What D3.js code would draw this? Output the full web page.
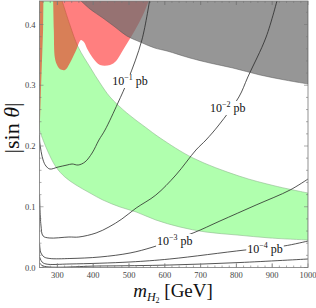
<!DOCTYPE html>
<html>
<head>
<meta charset="utf-8">
<script src="https://cdn.jsdelivr.net/npm/d3@7"></script>
<style>
body { margin: 0; background: #fff; }
text { font-family: "Liberation Serif", "DejaVu Serif", serif; }
</style>
</head>
<body>
<div id="chart"></div>
<script>
/* axis ticks */
var xTicks = [300, 400, 500, 600, 700, 800, 900, 1000];
var yTicks = [0.0, 0.1, 0.2, 0.3, 0.4];

/* excluded regions, [mH2, |sin theta|] */
var grayEdge = [[355, 0.445], [391, 0.4255], [427, 0.4107], [461, 0.3959], [494, 0.3811], [531, 0.3712],
    [572, 0.3613], [606, 0.3564], [670, 0.3449], [726, 0.3366], [790, 0.3284], [866, 0.3169], [936, 0.3086], [1000, 0.3021]];

var redMain = [[288, 0.445], [290, 0.3909], [293, 0.3449], [299, 0.3333], [307, 0.3267], [321, 0.3251], [335, 0.3366],
    [346, 0.3498], [355, 0.3613], [360, 0.3695], [366, 0.3745], [374, 0.3712], [385, 0.358], [399, 0.3449], [419, 0.3333],
    [447, 0.3333], [464, 0.3399], [480, 0.3547], [497, 0.3712], [517, 0.3909], [539, 0.4156], [559, 0.445]];
var redSliver = [[250, 0.445], [261, 0.445], [260, 0.3909], [257, 0.3416], [254, 0.2922], [251.4, 0.2428], [250, 0.2263]];

/* allowed band */
var greenTop = [[310, 0.445], [335, 0.3992], [358, 0.363], [391, 0.330], [419, 0.3037], [447, 0.2807], [494, 0.2543],
    [545, 0.2313], [587, 0.2132], [679, 0.1802], [807, 0.1506], [908, 0.1342], [1000, 0.1226]];
var greenBottom = [[250, 0.2263], [260, 0.2099], [274, 0.1901], [296, 0.1654], [321, 0.149], [352, 0.1358], [391, 0.1226],
    [427, 0.1111], [475, 0.0996], [520, 0.0914], [575, 0.0782], [642, 0.0667], [715, 0.0584], [802, 0.0535], [894, 0.0486], [1000, 0.0453]];

/* cross section contours */
var sigma1 = [[250.3, 0.218], [251, 0.2049], [260, 0.177], [268, 0.1671], [279, 0.1621], [302, 0.1654], [327, 0.1687],
    [341, 0.1704], [358, 0.1687], [377, 0.1737], [397, 0.1885], [416, 0.2099], [433, 0.2263], [469, 0.2708], [497, 0.3086],
    [536, 0.3745], [559, 0.445]];
var sigma2 = [[250.3, 0.1193], [254, 0.07], [260, 0.0519], [277, 0.0486], [332, 0.0502], [360, 0.0502], [408, 0.0568],
    [444, 0.0667], [480, 0.0798], [520, 0.0979], [575, 0.1193], [631, 0.1523], [687, 0.1934], [715, 0.2099], [751, 0.2346],
    [807, 0.2807], [832, 0.3136], [883, 0.3794], [916, 0.445]];
var sigma3 = [[250.3, 0.0387], [254, 0.0239], [263, 0.0173], [279, 0.0148], [335, 0.0148], [419, 0.0173], [503, 0.0239],
    [567, 0.0337], [679, 0.0568], [754, 0.0765], [855, 0.1029], [950, 0.1276], [1000, 0.1457]];
var sigma4 = [[250.3, 0.0173], [257, 0.0091], [268, 0.0058], [335, 0.0058], [503, 0.0091], [614, 0.014], [824, 0.0288],
    [933, 0.0354], [1000, 0.0436]];
var sigma5 = [[250.3, 0.0074], [260, 0.0025], [419, 0.0025], [614, 0.0041], [810, 0.0082], [1000, 0.014]];

var labelExp = ["\u22121", "\u22122", "\u22123", "\u22124"];
var labelPos = [[503, 0.307], [776, 0.2626], [628, 0.0436], [880, 0.030]];

var width = 316, height = 308;

var svg = d3.select("#chart")
    .append("svg")
    .attr("width", width)
    .attr("height", height);

var x = d3.scaleLinear().domain([250, 1000]).range([39.5, 308]);
var y = d3.scaleLinear().domain([0, 0.4387]).range([267.5, 1]);

var smooth = d3.line()
    .x(function(d) { return x(d[0]); })
    .y(function(d) { return y(d[1]); })
    .curve(d3.curveCatmullRom.alpha(0.5));

function seg(pts) { return smooth(pts).replace(/^M/, "L"); }

svg.append("clipPath").attr("id", "plotclip")
    .append("rect")
    .attr("x", x(250)).attr("y", y(0.4387))
    .attr("width", x(1000) - x(250)).attr("height", y(0) - y(0.4387));

var plot = svg.append("g").attr("clip-path", "url(#plotclip)");

/* green band */
var greenPath = "M" + x(250) + "," + y(0.445) + seg(greenTop) +
    seg(greenBottom.slice().reverse()) + "Z";
plot.append("path")
    .attr("d", greenPath)
    .attr("fill", "#b0ffae")
    .attr("stroke", "#8fb88f")
    .attr("stroke-width", 0.6);

/* red excluded */
plot.append("path")
    .attr("d", smooth(redMain) + "Z")
    .attr("fill", "#ff0000")
    .attr("fill-opacity", 0.5);
plot.append("path")
    .attr("d", d3.line().x(function(d) { return x(d[0]); }).y(function(d) { return y(d[1]); })(redSliver) + "Z")
    .attr("fill", "#ff0000")
    .attr("fill-opacity", 0.5);

/* gray excluded */
plot.append("path")
    .attr("d", smooth(grayEdge) + "L" + x(1000) + "," + y(0.445) + "Z")
    .attr("fill", "rgb(110,110,110)")
    .attr("fill-opacity", 0.72)
    .attr("stroke", "#555")
    .attr("stroke-width", 0.5);

/* contours */
[sigma1, sigma2, sigma3, sigma4, sigma5].forEach(function(c) {
    plot.append("path")
        .attr("d", smooth(c))
        .attr("fill", "none")
        .attr("stroke", "#2a2a2a")
        .attr("stroke-width", 0.8);
});

/* contour labels */
labelPos.forEach(function(p, i) {
    var g = plot.append("g");
    var t = g.append("text")
        .attr("x", x(p[0]))
        .attr("y", y(p[1]) + 4)
        .attr("text-anchor", "middle")
        .attr("font-size", 12)
        .attr("fill", "#111");
    t.append("tspan").text("10");
    t.append("tspan").attr("dy", -5).attr("font-size", 8).text(labelExp[i]);
    t.append("tspan").attr("dy", 5).text(" pb");
    var bb = t.node().getBBox();
    g.insert("rect", "text")
        .attr("x", bb.x - 1).attr("y", bb.y + 1)
        .attr("width", bb.width + 2).attr("height", bb.height - 1)
        .attr("fill", "#fff");
});

/* frame and ticks */
var frameColor = "#777";
svg.append("rect")
    .attr("x", x(250)).attr("y", y(0.4387))
    .attr("width", x(1000) - x(250)).attr("height", y(0) - y(0.4387))
    .attr("fill", "none")
    .attr("stroke", frameColor)
    .attr("stroke-width", 0.8);

var ticks = svg.append("g").attr("stroke", frameColor).attr("stroke-width", 0.6);
d3.range(260, 1000, 20).concat(xTicks).forEach(function(v) {
    var len = xTicks.indexOf(v) >= 0 ? 4 : 2;
    ticks.append("line").attr("x1", x(v)).attr("x2", x(v)).attr("y1", y(0)).attr("y2", y(0) - len);
    ticks.append("line").attr("x1", x(v)).attr("x2", x(v)).attr("y1", y(0.4387)).attr("y2", y(0.4387) + len);
});
d3.range(0, 44, 2).forEach(function(k) {
    var v = k / 100;
    var len = k % 10 === 0 ? 4 : 2;
    ticks.append("line").attr("x1", x(250)).attr("x2", x(250) + len).attr("y1", y(v)).attr("y2", y(v));
    ticks.append("line").attr("x1", x(1000)).attr("x2", x(1000) - len).attr("y1", y(v)).attr("y2", y(v));
});

svg.append("g").selectAll("text")
    .data(xTicks)
    .enter().append("text")
    .attr("x", function(d) { return x(d); })
    .attr("y", 278)
    .attr("text-anchor", "middle")
    .attr("font-size", 8.5)
    .attr("fill", "#444")
    .text(function(d) { return d; });

svg.append("g").selectAll("text")
    .data(yTicks)
    .enter().append("text")
    .attr("x", 35.5)
    .attr("y", function(d) { return y(d) + 3; })
    .attr("text-anchor", "end")
    .attr("font-size", 8.5)
    .attr("fill", "#444")
    .text(function(d) { return d.toFixed(1); });

/* axis titles */
var xt = svg.append("text")
    .attr("x", 173)
    .attr("y", 297)
    .attr("text-anchor", "middle")
    .attr("font-size", 19)
    .attr("fill", "#111");
xt.append("tspan").attr("font-style", "italic").text("m");
xt.append("tspan").attr("font-style", "italic").attr("font-size", 12).attr("dy", 4).text("H");
xt.append("tspan").attr("font-size", 8).attr("dy", 2).text("2");
xt.append("tspan").attr("dy", -6).text(" [GeV]");

var yt = svg.append("text")
    .attr("transform", "translate(19,128) rotate(-90)")
    .attr("text-anchor", "middle")
    .attr("font-size", 22)
    .attr("fill", "#111");
yt.append("tspan").text("|sin ");
yt.append("tspan").attr("font-style", "italic").text("\u03b8");
yt.append("tspan").text("|");
</script>
</body>
</html>
